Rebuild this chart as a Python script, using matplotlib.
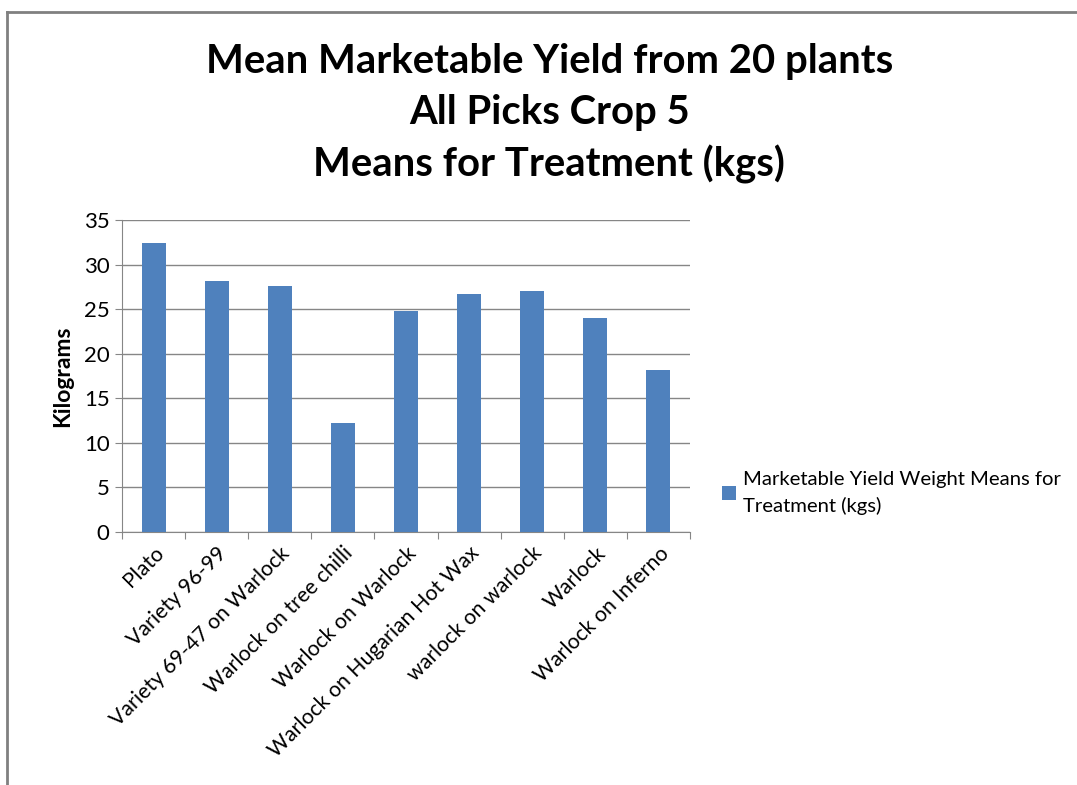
import matplotlib.pyplot as plt
from matplotlib.lines import Line2D
from matplotlib.patches import Patch

# Daten
treatments = ['Plato', 'Variety 96-99', 'Variety 69-47 on Warlock',
              'Warlock on tree chilli', 'Warlock on Warlock',
              'Warlock on Hugarian Hot Wax', 'warlock on warlock',
              'Warlock', 'Warlock on Inferno']
yield_kg = [32.4, 28.2, 27.6, 12.2, 24.8, 26.7, 27.0, 24.0, 18.2]
y_ticks = [0, 5, 10, 15, 20, 25, 30, 35]

bar_color = '#4F81BD'
grid_color = '#868686'

plt.rcParams['font.family'] = ['Lato', 'DejaVu Sans']

fig = plt.figure(figsize=(10.77, 7.85), dpi=100)
ax = fig.add_axes([0.1133, 0.3223, 0.5274, 0.3974])

x = range(len(treatments))
ax.bar(x, yield_kg, width=0.38, color=bar_color, zorder=3)

ax.set_xlim(-0.5, len(treatments) - 0.5)
ax.set_ylim(0, 35)
ax.set_yticks(y_ticks)
ax.tick_params(axis='y', labelsize=16, length=5, color=grid_color, pad=4, labelcolor='black')
ax.yaxis.grid(True, color=grid_color, linewidth=1, zorder=0)

# Kategorie-Ticks an den Grenzen
ax.set_xticks([i - 0.5 for i in range(len(treatments) + 1)], minor=False)
ax.set_xticklabels([])
ax.tick_params(axis='x', length=5, color=grid_color)
ax.set_xticks(list(x), minor=True)
ax.set_xticklabels(treatments, minor=True, rotation=45, ha='right',
                   rotation_mode='anchor', fontsize=15.3)
ax.tick_params(axis='x', which='minor', length=0, pad=8)

for side in ['top', 'right']:
    ax.spines[side].set_visible(False)
for side in ['left', 'bottom']:
    ax.spines[side].set_color(grid_color)

ax.set_ylabel('Kilograms', fontsize=16.5, fontweight='bold', labelpad=8)

fig.suptitle('Mean Marketable Yield from 20 plants\nAll Picks Crop 5\nMeans for Treatment (kgs)',
             x=0.51, y=0.945, fontsize=28.8, fontweight='bold', linespacing=1.45)

handle = Patch(facecolor=bar_color)
leg = fig.legend([handle], ['Marketable Yield Weight Means for\nTreatment (kgs)'],
                 loc='upper left', bbox_to_anchor=(0.663, 0.41), frameon=False,
                 fontsize=14.6, handlelength=0.7, handleheight=0.7, handletextpad=0.35,
                 borderaxespad=0)
leg.get_texts()[0].set_linespacing(1.55)

# Rahmen
fig.add_artist(Line2D([0.0065, 0.0065], [0, 0.985], color='#808080', lw=2, transform=fig.transFigure))
fig.add_artist(Line2D([0.0065, 1.0], [0.985, 0.985], color='#808080', lw=2, transform=fig.transFigure))

fig.savefig('out.png', dpi=100)
